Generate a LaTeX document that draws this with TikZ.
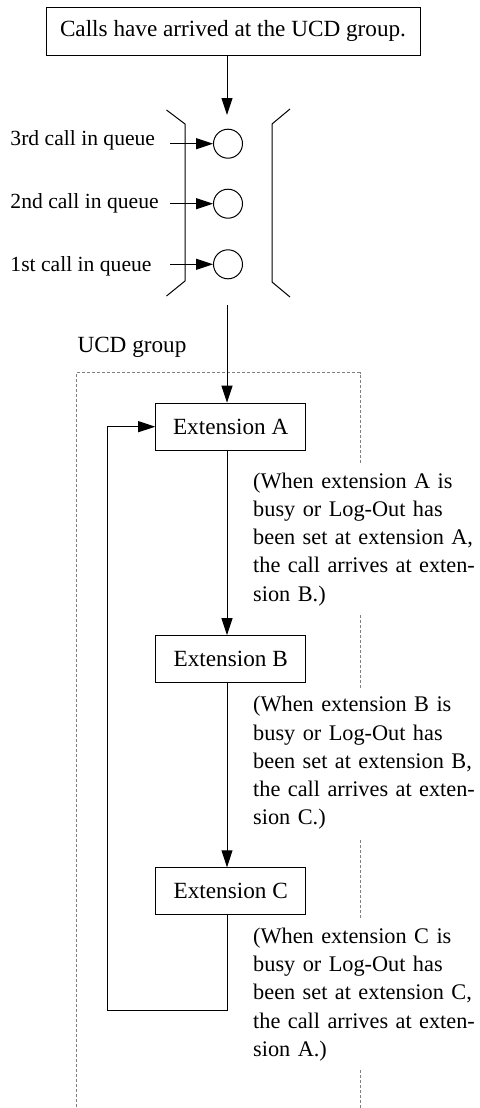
\documentclass[tikz,border=0pt]{standalone}
\usepackage{fontspec}
\setmainfont{Liberation Serif}
\usetikzlibrary{arrows.meta}
\begin{document}
\begin{tikzpicture}[x=0.5pt,y=-0.5pt,line width=0.5pt,
  mainfont/.style={font=\fontsize{11.6}{14.15}\selectfont},
  box/.style={draw,mainfont,inner sep=0pt},
  extbox/.style={box,minimum width=75pt,minimum height=23.5pt},
  slot/.style={draw,circle,minimum size=14.5pt,inner sep=0pt},
  qlabel/.style={font=\fontsize{10.8}{13}\selectfont,anchor=base west,inner sep=0pt},
  note/.style={font=\fontsize{11.15}{14.15}\selectfont,anchor=base west,text width=125pt,align=left,fill=white,inner xsep=1pt,inner ysep=4pt},
  arr/.style={-{Triangle[length=8.5pt,width=5.5pt]}},
  grp/.style={draw=gray,line width=0.4pt,dash pattern=on 1.5pt off 1pt}]
\useasboundingbox (0,0) rectangle (479,1108);
% group boundary
\draw[grp] (76.7,1112) |- (360,372.7) -- (360,1112);
\node[mainfont,anchor=base west,inner sep=0pt] (grplabel) at (77,352.7) {UCD group};
% top box
\node[box,minimum width=187pt,minimum height=24pt] (top) at (233,31) {Calls have arrived at the UCD group.};
% queue brackets
\draw (166.5,110) -- (185,124) -- (185,281) -- (166.5,296);
\draw (290,109) -- (272,124) -- (272,282) -- (290,297);
\coordinate (qin) at (227,115);
\coordinate (qout) at (227,305);
\draw[arr] (top.south -| qin) -- (qin);
% slots
\node[slot] (s3) at (228,143.7) {};
\node[slot] (s2) at (228,203.7) {};
\node[slot] (s1) at (228,264.3) {};
\node[qlabel] (l3) at (10,145) {3rd call in queue};
\node[qlabel] (l2) at (10,208) {2nd call in queue};
\node[qlabel] (l1) at (10,271) {1st call in queue};
\coordinate (a3) at (170,143.7);
\coordinate (a2) at (170,203.7);
\coordinate (a1) at (170,264.3);
\draw[arr] (a3) -- (s3.west);
\draw[arr] (a2) -- (s2.west);
\draw[arr] (a1) -- (s1.west);
% extensions
\node[extbox] (extA) at (230.7,426.7) {Extension A};
\node[extbox] (extB) at (230.7,659.2) {Extension B};
\node[extbox] (extC) at (230.7,891.3) {Extension C};
\draw[arr] (qout) -- (extA.north -| qout);
\draw[arr] (extA.south -| qout) -- (extB.north -| qout);
\draw[arr] (extB.south -| qout) -- (extC.north -| qout);
\coordinate (loopc) at (107.7,1010);
\draw[arr] (extC.south -| qout) |- (loopc) |- (extA.west);
% notes
\node[note] (nA) at (250.7,488) {(When extension A is\\busy or Log-Out has\\been set at extension A,\\the call arrives at exten-\\sion B.)};
\node[note] (nB) at (250.7,711.7) {(When extension B is\\busy or Log-Out has\\been set at extension B,\\the call arrives at exten-\\sion C.)};
\node[note] (nC) at (250.7,943.3) {(When extension C is\\busy or Log-Out has\\been set at extension C,\\the call arrives at exten-\\sion A.)};
\end{tikzpicture}
\end{document}
